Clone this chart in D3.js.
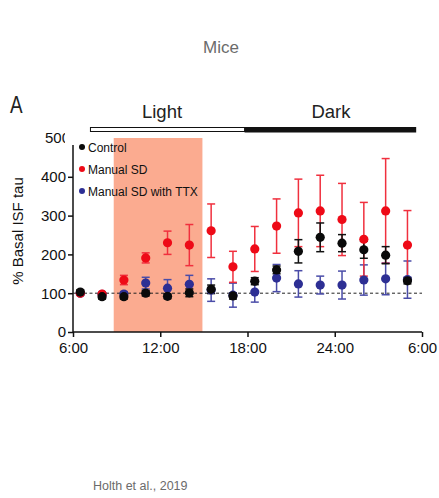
<!DOCTYPE html>
<html>
<head>
<meta charset="utf-8">
<script src="https://cdn.jsdelivr.net/npm/d3@7"></script>
<style>
  html, body { margin: 0; padding: 0; background: #fff; }
  svg { display: block; font-family: "Liberation Sans", Arial, sans-serif; }
</style>
</head>
<body>
<svg id="chart" width="439" height="498"></svg>
<script>
// Sampling times, hours since midnight (values past 24 continue into the next day)
const hours = [6.5, 8, 9.5, 11, 12.5, 14, 15.5, 17, 18.5, 20, 21.5, 23, 24.5, 26, 27.5, 29];

// Mean % basal ISF tau and SEM for each group
const controlMean = [103, 91, 91, 100, 92, 101, 110, 93, 131, 160, 208, 244, 229, 212, 198, 132];
const controlErr  = [6, 6, 6, 7, 6, 10, 11, 8, 9, 10, 30, 37, 22, 22, 22, 8];
const sdMean      = [100, 98, 134, 191, 230, 224, 261, 168, 214, 273, 307, 312, 290, 239, 312, 224];
const sdErr       = [4, 4, 12, 13, 30, 53, 69, 40, 58, 70, 87, 92, 93, 95, 135, 89];
const ttxMean     = [100, 97, 98, 126, 113, 123, 108, 95, 103, 139, 124, 121, 121, 134, 137, 135];
const ttxErr      = [5, 5, 6, 15, 22, 23, 29, 31, 26, 35, 34, 23, 36, 39, 41, 48];

const seriesNames = ["Control", "Manual SD", "Manual SD with TTX"];
const xTickHours  = [6, 12, 18, 24, 30];
const xTickLabels = ["6:00", "12:00", "18:00", "24:00", "6:00"];
const yTicks      = [0, 100, 200, 300, 400, 500];

// Sleep deprivation window and light/dark phases (hours)
const sdWindow   = [8.8, 14.9];
const lightPhase = [7.2, 17.8];
const darkPhase  = [17.8, 29.6];

const svg = d3.select("#chart");

const x = d3.scaleLinear().domain([6, 30]).range([73, 422]);
const y = d3.scaleLinear().domain([0, 500]).range([332, 138]);

// Title and credit
svg.append("text").attr("x", 221).attr("y", 53).attr("text-anchor", "middle")
  .attr("font-size", 17).attr("fill", "#6b6b6b").text("Mice");
svg.append("text").attr("x", 93).attr("y", 490)
  .attr("font-size", 12.5).attr("fill", "#6b6b6b").text("Holth et al., 2019");

// Panel letter
svg.append("text")
  .attr("transform", "translate(10,113) scale(0.82,1.08)")
  .attr("font-size", 23).attr("fill", "#222").text("A");

// Sleep deprivation shading
svg.append("rect")
  .attr("x", x(sdWindow[0])).attr("y", y(500))
  .attr("width", x(sdWindow[1]) - x(sdWindow[0]))
  .attr("height", y(0) - y(500))
  .attr("fill", "#fbab90");

// Light / dark bar
svg.append("rect")
  .attr("x", x(lightPhase[0])).attr("y", 127.5)
  .attr("width", x(lightPhase[1]) - x(lightPhase[0])).attr("height", 4)
  .attr("fill", "#fff").attr("stroke", "#111").attr("stroke-width", 1);
svg.append("rect")
  .attr("x", x(darkPhase[0])).attr("y", 127)
  .attr("width", x(darkPhase[1]) - x(darkPhase[0])).attr("height", 5.5)
  .attr("fill", "#111");
svg.append("text").attr("x", 162).attr("y", 118).attr("text-anchor", "middle")
  .attr("font-size", 18.5).attr("fill", "#222").text("Light");
svg.append("text").attr("x", 331).attr("y", 118).attr("text-anchor", "middle")
  .attr("font-size", 18.5).attr("fill", "#222").text("Dark");

// Y axis
const yAxis = d3.axisLeft(y).tickValues(yTicks.slice(0, 5)).tickSize(5).tickFormat(d3.format("d"));
const gy = svg.append("g").attr("transform", `translate(${x(6)},0)`).call(yAxis);
gy.select(".domain").attr("d", `M0,145V${y(0)}`).attr("stroke", "#111").attr("stroke-width", 1.5);
gy.selectAll(".tick line").attr("stroke", "#111").attr("stroke-width", 1.5);
gy.selectAll(".tick text").attr("font-size", 15).attr("fill", "#111").attr("x", -7)
  .attr("font-family", "Liberation Sans, Arial, sans-serif");

// The top label is partly hidden behind the legend area
const clip = svg.append("clipPath").attr("id", "topClip");
clip.append("rect").attr("x", 0).attr("y", 120).attr("width", x(6) - 8).attr("height", 40);
svg.append("text").attr("clip-path", "url(#topClip)")
  .attr("x", x(6) - 3).attr("y", y(yTicks[5]) + 5).attr("text-anchor", "end")
  .attr("font-size", 15).attr("fill", "#111").text(yTicks[5]);

// Y label
svg.append("text")
  .attr("transform", `translate(23,${(y(0) + y(500)) / 2 - 4}) rotate(-90)`)
  .attr("text-anchor", "middle").attr("font-size", 15).attr("fill", "#111")
  .text("% Basal ISF tau");

// X axis
const xAxis = d3.axisBottom(x).tickValues(xTickHours).tickSize(5)
  .tickFormat((d, i) => xTickLabels[i]);
const gx = svg.append("g").attr("transform", `translate(0,${y(0)})`).call(xAxis);
gx.select(".domain").attr("d", `M${x(6)},0H${x(30)}`).attr("stroke", "#111").attr("stroke-width", 1.5);
gx.selectAll(".tick line").attr("stroke", "#111").attr("stroke-width", 1.5);
gx.selectAll(".tick text").attr("font-size", 15).attr("fill", "#111").attr("y", 10)
  .attr("font-family", "Liberation Sans, Arial, sans-serif");

// Baseline at 100 %
svg.append("line")
  .attr("x1", x(6)).attr("x2", x(30)).attr("y1", y(100)).attr("y2", y(100))
  .attr("stroke", "#222").attr("stroke-width", 1).attr("stroke-dasharray", "3,2.5");

// Series
const series = [
  { name: seriesNames[2], mean: ttxMean, err: ttxErr, color: "#2d2f94", bar: "#4a4ca8" },
  { name: seriesNames[1], mean: sdMean, err: sdErr, color: "#ee0a17", bar: "#f0303e" },
  { name: seriesNames[0], mean: controlMean, err: controlErr, color: "#0a0a0a", bar: "#111" }
];

// Draw error bars first, then points, so dots sit above all whiskers
series.forEach(s => {
  const g = svg.append("g");
  const data = hours.map((h, i) => ({ h, m: s.mean[i], e: s.err[i] }));
  g.selectAll("line.v").data(data).join("line")
    .attr("x1", d => x(d.h)).attr("x2", d => x(d.h))
    .attr("y1", d => y(d.m + d.e)).attr("y2", d => y(d.m - d.e))
    .attr("stroke", s.bar).attr("stroke-width", 1.5);
  ["+", "-"].forEach(sign => {
    g.selectAll(`line.c${sign === "+" ? "t" : "b"}`).data(data).join("line")
      .attr("x1", d => x(d.h) - 4).attr("x2", d => x(d.h) + 4)
      .attr("y1", d => y(sign === "+" ? d.m + d.e : d.m - d.e))
      .attr("y2", d => y(sign === "+" ? d.m + d.e : d.m - d.e))
      .attr("stroke", s.bar).attr("stroke-width", 1.5);
  });
});
series.forEach(s => {
  svg.append("g").selectAll("circle").data(hours.map((h, i) => ({ h, m: s.mean[i] }))).join("circle")
    .attr("cx", d => x(d.h)).attr("cy", d => y(d.m)).attr("r", 4.6)
    .attr("fill", s.color);
});

// Legend
const legendColors = ["#0a0a0a", "#ee0a17", "#2d2f94"];
const lg = svg.append("g").attr("transform", "translate(82,147)");
seriesNames.forEach((n, i) => {
  const row = lg.append("g").attr("transform", `translate(0,${i * 22})`);
  row.append("circle").attr("r", 3).attr("fill", legendColors[i]);
  row.append("text").attr("x", 6).attr("y", 4.5).attr("font-size", 12)
    .attr("fill", "#111").text(n);
});
</script>
</body>
</html>
